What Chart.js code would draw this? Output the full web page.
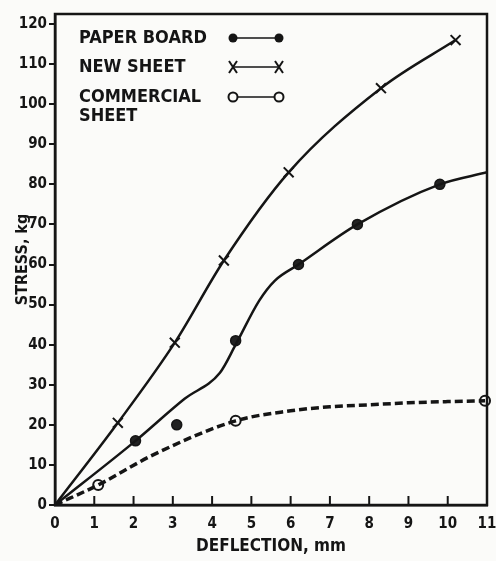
<!DOCTYPE html>
<html>
<head>
<meta charset="utf-8">
<title>Stress vs deflection</title>
<script src="https://cdn.jsdelivr.net/npm/chart.js@4.4.0/dist/chart.umd.min.js"></script>
<style>
  body { margin: 0; background: #fbfbf9; }
</style>
</head>
<body>
<canvas id="myChart" width="496" height="561"></canvas>
<script>
// tick labels
const xTicks = [0, 1, 2, 3, 4, 5, 6, 7, 8, 9, 10, 11];
const yTicks = [0, 10, 20, 30, 40, 50, 60, 70, 80, 90, 100, 110, 120];

// NEW SHEET (x markers, curve goes through them)
const newSheetX = [0, 1.6, 3.05, 4.3, 5.95, 8.3, 10.2];
const newSheetY = [0, 20.5, 40.5, 61, 83, 104, 116];

// PAPER BOARD: measured points and the drawn curve
const paperX = [2.05, 3.1, 4.6, 6.2, 7.7, 9.8];
const paperY = [16, 20, 41, 60, 70, 80];
const paperCurveX = [0, 2.05, 3.3, 4.2, 4.6, 5.2, 5.6, 6.2, 7.7, 9.8, 11];
const paperCurveY = [0, 16, 26.5, 33, 40, 51, 56, 60, 70, 80, 83];

// COMMERCIAL SHEET: measured points and the dashed curve
const commX = [1.1, 4.6, 10.95];
const commY = [5, 21, 26];
const commCurveX = [0, 1.1, 2.5, 4.6, 6, 7, 8, 9, 10, 10.95];
const commCurveY = [0, 5, 12.5, 21, 23.5, 24.5, 25, 25.5, 25.8, 26];

const ink = '#151515';
const fontFam = "'DejaVu Sans Condensed', 'Liberation Sans Narrow', 'DejaVu Sans', sans-serif";

function pts(xs, ys) {
    return xs.map((x, i) => ({x: x, y: ys[i]}));
}

// box round the plot, inner x ticks and the legend
const framePlugin = {
    id: 'frame',
    beforeDraw(chart) {
        const c = chart.ctx;
        c.save();
        c.fillStyle = '#fbfbf9';
        c.fillRect(0, 0, chart.width, chart.height);
        c.restore();
    },
    afterDraw(chart) {
        const c = chart.ctx;
        const a = chart.chartArea;
        const xs = chart.scales.x;
        c.save();
        c.strokeStyle = ink;
        c.lineWidth = 2.5;
        c.strokeRect(a.left, a.top, a.right - a.left, a.bottom - a.top);
        c.lineWidth = 2;
        xTicks.forEach(v => {
            const px = xs.getPixelForValue(v);
            c.beginPath();
            c.moveTo(px, a.bottom);
            c.lineTo(px, a.bottom - 9);
            c.stroke();
        });

        // legend
        const rows = [
            {text: ['PAPER BOARD'], y: 38, style: 'dot'},
            {text: ['NEW SHEET'], y: 67, style: 'x'},
            {text: ['COMMERCIAL', 'SHEET'], y: 97, style: 'ring'}
        ];
        c.font = 'bold 18px ' + fontFam;
        c.fillStyle = ink;
        c.textBaseline = 'middle';
        rows.forEach(r => {
            r.text.forEach((t, i) => c.fillText(t, 79, r.y + i * 19));
            const x1 = 233, x2 = 279;
            c.lineWidth = 1.5;
            c.beginPath();
            c.moveTo(x1, r.y);
            c.lineTo(x2, r.y);
            c.stroke();
            [x1, x2].forEach(px => {
                c.lineWidth = 2;
                c.beginPath();
                if (r.style === 'dot') {
                    c.arc(px, r.y, 4.5, 0, Math.PI * 2);
                    c.fill();
                } else if (r.style === 'ring') {
                    c.arc(px, r.y, 4.5, 0, Math.PI * 2);
                    c.fillStyle = '#fbfbf9';
                    c.fill();
                    c.stroke();
                    c.fillStyle = ink;
                } else {
                    c.moveTo(px - 4, r.y - 6);
                    c.lineTo(px + 4, r.y + 6);
                    c.moveTo(px + 4, r.y - 6);
                    c.lineTo(px - 4, r.y + 6);
                    c.stroke();
                }
            });
        });
        c.restore();
    }
};

const ctx = document.getElementById('myChart').getContext('2d');
const myChart = new Chart(ctx, {
    type: 'scatter',
    data: {
        datasets: [
            {
                label: 'NEW SHEET',
                data: pts(newSheetX, newSheetY),
                showLine: true,
                borderColor: ink,
                borderWidth: 2.5,
                cubicInterpolationMode: 'monotone',
                pointStyle: 'crossRot',
                pointRadius: [0, 7, 7, 7, 7, 7, 7],
                pointBorderWidth: 2,
                pointBorderColor: ink
            },
            {
                label: 'PAPER BOARD curve',
                data: pts(paperCurveX, paperCurveY),
                showLine: true,
                borderColor: ink,
                borderWidth: 2.5,
                cubicInterpolationMode: 'monotone',
                pointRadius: 0
            },
            {
                label: 'PAPER BOARD',
                data: pts(paperX, paperY),
                pointStyle: 'circle',
                pointRadius: 5,
                backgroundColor: '#222',
                pointBorderColor: ink,
                pointBorderWidth: 1.5
            },
            {
                label: 'COMMERCIAL SHEET curve',
                data: pts(commCurveX, commCurveY),
                showLine: true,
                borderColor: ink,
                borderWidth: 3.5,
                borderDash: [8, 4],
                cubicInterpolationMode: 'monotone',
                pointRadius: 0
            },
            {
                label: 'COMMERCIAL SHEET',
                data: pts(commX, commY),
                clip: false,
                pointStyle: 'circle',
                pointRadius: 5,
                backgroundColor: '#fbfbf9',
                pointBorderColor: ink,
                pointBorderWidth: 2
            }
        ]
    },
    options: {
        responsive: false,
        animation: false,
        layout: {padding: {left: 0, right: 6, top: 14, bottom: 0}},
        plugins: {
            legend: {display: false},
            tooltip: {enabled: false}
        },
        scales: {
            x: {
                type: 'linear',
                min: 0,
                max: 11,
                afterBuildTicks: s => { s.ticks = xTicks.map(v => ({value: v})); },
                afterFit: s => { s.height = 56; s.paddingLeft = 0; s.paddingRight = 0; },
                grid: {display: false, drawTicks: false},
                border: {display: true, color: ink, width: 2.5},
                ticks: {color: ink, padding: 10, font: {family: fontFam, size: 15, weight: 'bold'}, maxRotation: 0},
                title: {display: true, text: 'DEFLECTION, mm', color: ink, padding: {top: 0, bottom: 4},
                        font: {family: fontFam, size: 17, weight: 'bold'}}
            },
            y: {
                min: 0,
                max: 122.5,
                afterBuildTicks: s => { s.ticks = yTicks.map(v => ({value: v})); },
                afterFit: s => { s.width = 55; s.paddingTop = 0; s.paddingBottom = 0; },
                grid: {drawOnChartArea: false, color: ink, lineWidth: 2, tickLength: 6},
                border: {display: true, color: ink, width: 2.5},
                ticks: {color: ink, padding: 2, font: {family: fontFam, size: 15, weight: 'bold'}},
                title: {display: true, text: 'STRESS, kg', color: ink, padding: {top: 13, bottom: 0},
                        font: {family: fontFam, size: 16, weight: 'bold'}}
            }
        }
    },
    plugins: [framePlugin]
});
</script>
</body>
</html>
